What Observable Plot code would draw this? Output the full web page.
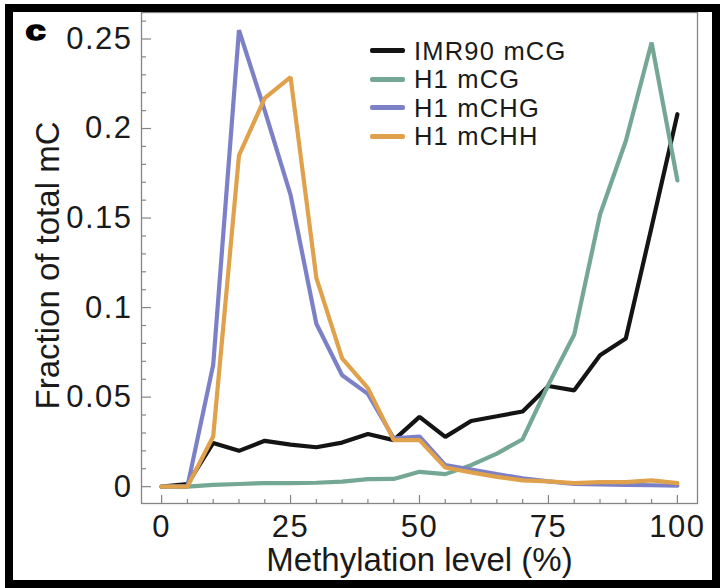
<!DOCTYPE html>
<html><head><meta charset="utf-8">
<script src="https://cdn.jsdelivr.net/npm/d3@7"></script>
<script src="https://cdn.jsdelivr.net/npm/@observablehq/plot@0.6"></script>
<style>
html,body{margin:0;padding:0;background:#fff;}
#wrap{position:relative;width:721px;height:588px;overflow:hidden;font-family:"Liberation Sans",Arial,Helvetica,sans-serif;}
#chart{position:absolute;left:0;top:0;}
#chart g[aria-label$="tick label"] text{letter-spacing:1.5px;}
#border{position:absolute;left:5px;top:4px;width:715px;height:584px;border:8px solid #000;box-sizing:border-box;pointer-events:none;}
#legend{position:absolute;left:370px;top:36.6px;font-size:25.5px;line-height:28.5px;letter-spacing:1.2px;color:#1a1a1a;}
.row{display:flex;align-items:center;white-space:nowrap;height:28.5px;}
.sw{width:35px;height:5px;margin-right:9px;border-radius:2px;flex:none;}
</style></head><body><div id="wrap"><div id="chart"></div><div id="legend"></div><div id="border"></div></div>
<script>
// Methylation level bins (%)
const levels = [0,5,10,15,20,25,30,35,40,45,50,55,60,65,70,75,80,85,90,95,100];
// Fraction of total mC per series
const imr90mCG = [0,0.0014,0.0244,0.020,0.0256,0.0235,0.022,0.0246,0.0294,0.026,0.039,0.0278,0.0367,0.0393,0.042,0.0562,0.0538,0.0734,0.0827,0.145,0.208];
const h1mCG    = [0,0,0.001,0.0015,0.002,0.002,0.0022,0.0028,0.0042,0.0043,0.0083,0.007,0.012,0.0185,0.0265,0.057,0.085,0.152,0.193,0.248,0.171];
const h1mCHG   = [0,0,0.068,0.255,0.21,0.163,0.091,0.0622,0.0518,0.027,0.028,0.012,0.0096,0.007,0.0046,0.003,0.0015,0.0012,0.001,0.0008,0.0005];
const h1mCHH   = [0,0,0.028,0.185,0.217,0.2287,0.1166,0.0717,0.055,0.026,0.026,0.0107,0.008,0.0055,0.0035,0.003,0.002,0.0025,0.0025,0.0035,0.002];
const seriesNames = ["IMR90 mCG","H1 mCG","H1 mCHG","H1 mCHH"];
const seriesColors = ["#141414","#74a794","#7c80c6","#dfa14b"];
// Ticks
const xMajor = [0,25,50,75,100];
const xTickLabels = ["0","25","50","75","100"];
const xMinor = [5,10,15,20,30,35,40,45,55,60,65,70,80,85,90,95];
const yMajor = [0,0.05,0.1,0.15,0.2,0.25];
const yTickLabels = ["0","0.05","0.1","0.15","0.2","0.25"];
const yMinor = [0.01,0.02,0.03,0.04,0.06,0.07,0.08,0.09,0.11,0.12,0.13,0.14,0.16,0.17,0.18,0.19,0.21,0.22,0.23,0.24,0.26];
const xLabel = "Methylation level (%)";
const yLabel = "Fraction of total mC";
const panelLabel = "c";

const seriesValues = [imr90mCG, h1mCG, h1mCHG, h1mCHH];
const rows = seriesNames.flatMap((name, i) => levels.map((lv, j) => ({series: name, level: lv, value: seriesValues[i][j]})));

const W = 721, H = 588, mL = 141, mR = 24, mT = 12, mB = 85;
const plotW = W - mL - mR, plotH = H - mT - mB;
const axisColor = "#858585";

const chart = Plot.plot({
  width: W, height: H,
  marginLeft: mL, marginRight: mR, marginTop: mT, marginBottom: mB,
  style: {fontFamily: '"Liberation Sans", Arial, Helvetica, sans-serif', background: "transparent", color: "#1a1a1a", overflow: "visible"},
  x: {domain: [-3.9, 103.9]},
  y: {domain: [-0.0094, 0.2648]},
  color: {domain: seriesNames, range: seriesColors},
  marks: [
    Plot.frame({stroke: axisColor, strokeWidth: 1.3}),
    Plot.tickY(yMinor, {y: d => d, insetRight: plotW - 5, stroke: axisColor, strokeWidth: 1.2}),
    Plot.tickY(yMajor, {y: d => d, insetRight: plotW - 10, stroke: axisColor, strokeWidth: 1.2}),
    Plot.tickX(xMinor, {x: d => d, insetTop: plotH - 4, stroke: axisColor, strokeWidth: 1.2}),
    Plot.tickX(xMajor, {x: d => d, insetTop: plotH - 8, stroke: axisColor, strokeWidth: 1.2}),
    Plot.axisY({ticks: yMajor, tickSize: 0, tickPadding: 9, tickFormat: d => yTickLabels[yMajor.indexOf(d)], fontSize: 31, label: null}),
    Plot.axisX({ticks: xMajor, tickSize: 0, tickPadding: 11, tickFormat: d => xTickLabels[xMajor.indexOf(d)], fontSize: 31, label: null}),
    Plot.line(rows, {x: "level", y: "value", z: "series", stroke: "series", strokeWidth: 4.2, strokeLinejoin: "miter"}),
    Plot.text([xLabel], {text: d => d, frameAnchor: "bottom", textAnchor: "middle", lineAnchor: "middle", dy: 57, fontSize: 33}),
    Plot.text([yLabel], {text: d => d, frameAnchor: "left", textAnchor: "middle", lineAnchor: "middle", rotate: -90, dx: -92.6, dy: 7.5, fontSize: 33}),
    Plot.text([panelLabel], {text: d => d, frameAnchor: "top-left", textAnchor: "middle", lineAnchor: "middle", dx: -106, dy: 18.4, fontSize: 28, fontWeight: 900, stroke: "#000", strokeWidth: 1.6, fill: "#000"})
  ]
});
// widen the heavy panel letter horizontally, as in the original figure
d3.select(chart).selectAll("text").filter(function() { return this.textContent === panelLabel; })
  .attr("transform", function() { return (this.getAttribute("transform") || "") + " scale(1.3,1)"; });
document.getElementById("chart").appendChild(chart);

const legend = document.getElementById("legend");
seriesNames.forEach((name, i) => {
  const row = document.createElement("div");
  row.className = "row";
  const sw = document.createElement("span");
  sw.className = "sw";
  sw.style.background = seriesColors[i];
  const label = document.createElement("span");
  label.textContent = name;
  row.appendChild(sw); row.appendChild(label);
  legend.appendChild(row);
});
</script>
</body></html>
